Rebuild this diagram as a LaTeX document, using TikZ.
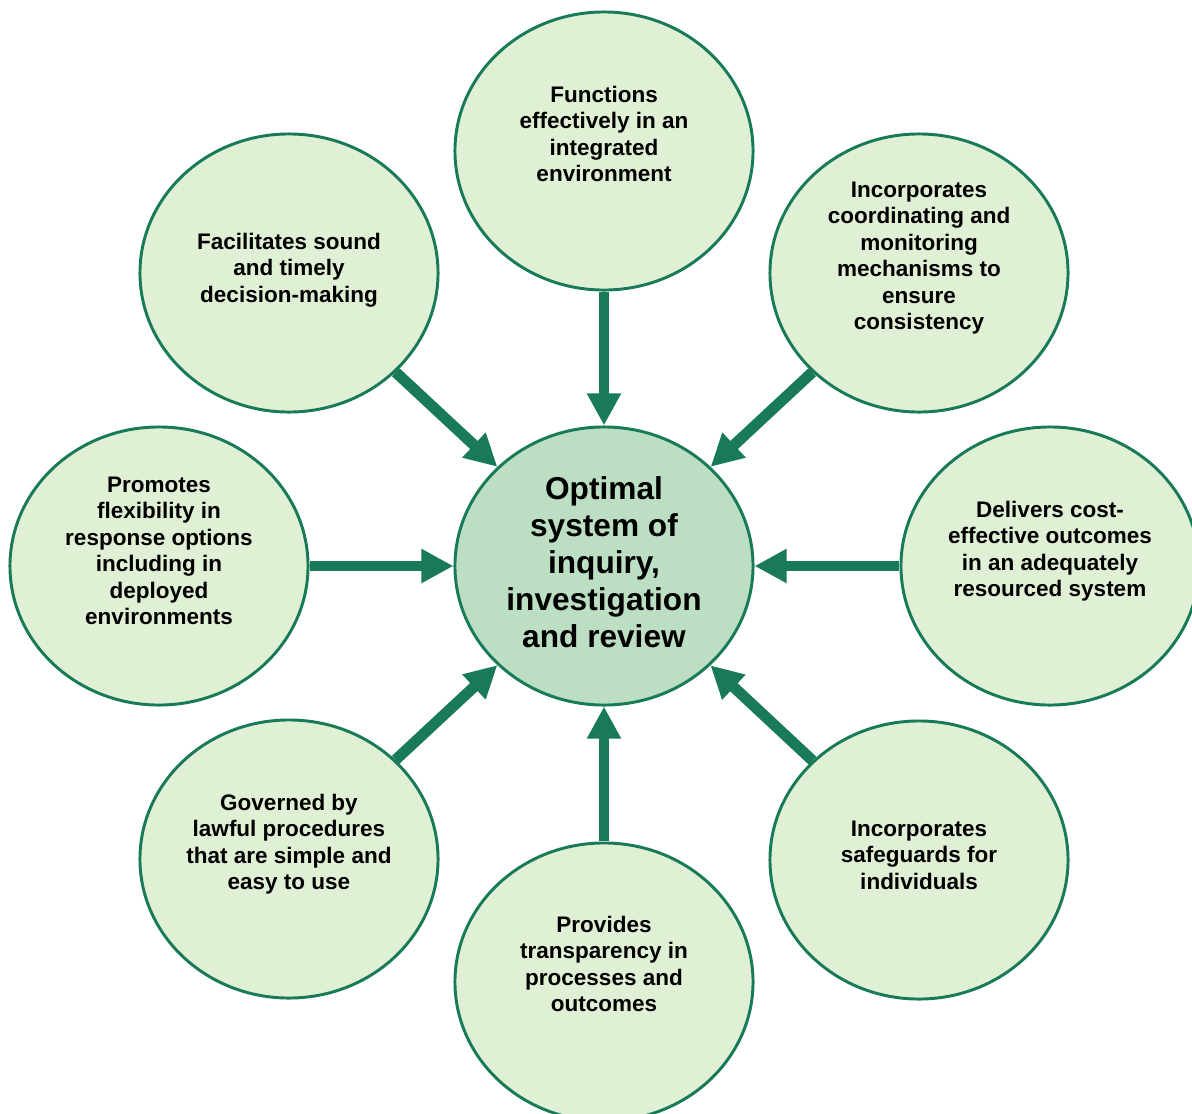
\documentclass[tikz,border=0pt]{standalone}
\usepackage{fontspec}
\setmainfont{Liberation Sans}
\usetikzlibrary{shapes.geometric,arrows.meta}
\definecolor{aimgreen}{RGB}{24,122,86}
\definecolor{aimfill}{RGB}{224,240,213}
\definecolor{corefill}{RGB}{188,223,195}
\tikzset{
  aim/.style={ellipse, draw=aimgreen, line width=2.1pt, fill=aimfill,
    minimum width=7.45cm, minimum height=6.95cm, inner sep=0pt},
  aimtext/.style={align=center, font=\bfseries\fontsize{16}{18.8}\selectfont},
  feed/.style={-{Triangle[length=22.8pt,width=22.8pt]}, line width=7.8pt, aimgreen},
}
\NewDocumentCommand{\aimcell}{mmmO{15}}{%
\node[aim] (#1) at (#2) {};%chktex 1
\node[aimtext] (#1t) at ([shift={(0,-#4)}]#1.center) {#3};%chktex 1
}

\begin{document}
\begin{tikzpicture}[x=0.025cm, y=-0.025cm]
        \clip (0,0) rectangle (1192,1113);
        % Outer aims.
        \aimcell{aimn}{604,151}{Functions\\effectively in an\\integrated\\environment}[17]
        \aimcell{aimne}{919,273}{Incorporates\\coordinating and\\monitoring\\mechanisms to\\ensure\\consistency}
        \aimcell{aime}{1050,566}{Delivers cost-\\effective outcomes\\in an adequately\\resourced system}
        \aimcell{aimse}{919,860}{Incorporates\\safeguards for\\individuals}[5]
        \aimcell{aims}{604,982}{Provides\\transparency in\\processes and\\outcomes}[18]
        \aimcell{aimsw}{289,859}{Governed by\\lawful procedures\\that are simple and\\easy to use}
        \aimcell{aimw}{159,566}{Promotes\\flexibility in\\response options\\including in\\deployed\\environments}
        \aimcell{aimnw}{289,273}{Facilitates sound\\and timely\\decision-making}[3]

        % Core goal.
        \node[aim, fill=corefill, align=center, font=\bfseries\fontsize{22.5}{26.3}\selectfont]
          (core) at (604,566) {Optimal\\system of\\inquiry,\\investigation\\and review\vspace{6pt}};

        % Arrows into the core.
        \foreach \a in {aimn,aimne,aime,aimse,aims,aimsw,aimw,aimnw}
          \draw[feed] (\a) -- (core);
    \end{tikzpicture}
\end{document}
